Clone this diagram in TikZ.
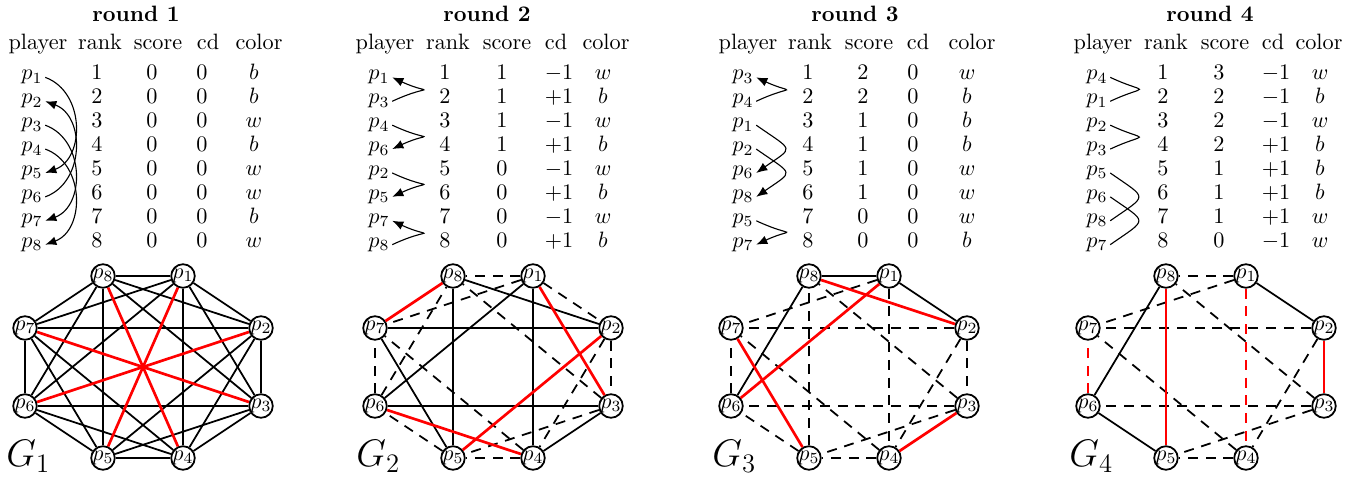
\documentclass[tikz,border=0pt]{standalone}
\usepackage{amsmath}
\usepackage{tikz}
\usetikzlibrary{arrows.meta}

\begin{document}
\begin{tikzpicture}[
  x=0.45pt, y=-0.45pt,
  rtitle/.style={font=\bfseries, anchor=base, inner sep=1pt},
  hcell/.style={anchor=base, inner sep=1pt},
  dcell/.style={anchor=base, inner sep=1pt},
  pairarrow/.style={line width=0.5pt, -{Latex[length=5pt,width=4pt]}},
  pairline/.style={line width=0.5pt},
  godown/.style={out=-#1, in=#1},
  goup/.style={out=#1, in=-#1},
  vert/.style={circle, draw, thick, fill=white, inner sep=-0.3pt, minimum size=10.6pt},
  glabel/.style={font=\LARGE, anchor=base west, inner sep=0pt},
  sedge/.style={thick},
  dedge/.style={thick, dash pattern=on 4.5pt off 3.5pt},
  match/.style={very thick, red},
  dmatch/.style={very thick, red, dash pattern=on 4.5pt off 3.5pt}
]
  \useasboundingbox (0,0) rectangle (1361,479);

  % ---- round 1 ----
  \node[rtitle] (t1) at (136,21.7) {round 1};
  \foreach \h/\x in {player/38, rank/100, score/158, cd/208, color/259}
    \node[hcell] (h1\h) at (\x,50) {\h};
  \foreach \pl/\sc/\cd/\co [count=\i] in {1/0/0/b, 2/0/0/b, 3/0/0/w, 4/0/0/b,
                                          5/0/0/w, 6/0/0/w, 7/0/0/b, 8/0/0/w} {
    \node[dcell] (r1p\pl) at (32,{80+23.9*(\i-1)}) {$p_{\pl}$};
    \node[dcell] (r1r\i) at (97,{80+23.9*(\i-1)}) {$\i$};
    \node[dcell] (r1s\i) at (152,{80+23.9*(\i-1)}) {$\sc$};
    \node[dcell] (r1d\i) at (202,{80+23.9*(\i-1)}) {$\cd$};
    \node[dcell] (r1c\i) at (254,{80+23.9*(\i-1)}) {$\co$};
  }
  \draw[pairarrow] (r1p1.east) to[godown=20, looseness=1.14] (r1p5.east);
  \draw[pairarrow] (r1p6.east) to[goup=20, looseness=1.14] (r1p2.east);
  \draw[pairarrow] (r1p3.east) to[godown=20, looseness=1.14] (r1p7.east);
  \draw[pairarrow] (r1p4.east) to[godown=20, looseness=1.14] (r1p8.east);

  % ---- round 2 ----
  \node[rtitle] (t2) at (487,21.7) {round 2};
  \foreach \h/\x in {player/385, rank/448, score/507, cd/556, color/606}
    \node[hcell] (h2\h) at (\x,50) {\h};
  \foreach \pl/\sc/\cd/\co [count=\i] in {1/1/-1/w, 3/1/+1/b, 4/1/-1/w, 6/1/+1/b,
                                          2/0/-1/w, 5/0/+1/b, 7/0/-1/w, 8/0/+1/b} {
    \node[dcell] (r2p\pl) at (379,{80+23.9*(\i-1)}) {$p_{\pl}$};
    \node[dcell] (r2r\i) at (445,{80+23.9*(\i-1)}) {$\i$};
    \node[dcell] (r2s\i) at (502,{80+23.9*(\i-1)}) {$\sc$};
    \node[dcell] (r2d\i) at (559,{80+23.9*(\i-1)}) {$\cd$};
    \node[dcell] (r2c\i) at (603,{80+23.9*(\i-1)}) {$\co$};
  }
  \draw[pairarrow] (r2p3.east) to[goup=25, looseness=4.8] (r2p1.east);
  \draw[pairarrow] (r2p4.east) to[godown=25, looseness=4.8] (r2p6.east);
  \draw[pairarrow] (r2p2.east) to[godown=25, looseness=4.8] (r2p5.east);
  \draw[pairarrow] (r2p8.east) to[goup=25, looseness=4.8] (r2p7.east);

  % ---- round 3 ----
  \node[rtitle] (t3) at (855,21.7) {round 3};
  \foreach \h/\x in {player/748, rank/810, score/869, cd/918, color/972}
    \node[hcell] (h3\h) at (\x,50) {\h};
  \foreach \pl/\sc/\cd/\co [count=\i] in {3/2/0/w, 4/2/0/b, 1/1/0/b, 2/1/0/b,
                                          6/1/0/w, 8/1/0/w, 5/0/0/w, 7/0/0/b} {
    \node[dcell] (r3p\pl) at (743,{80+23.9*(\i-1)}) {$p_{\pl}$};
    \node[dcell] (r3r\i) at (808,{80+23.9*(\i-1)}) {$\i$};
    \node[dcell] (r3s\i) at (863,{80+23.9*(\i-1)}) {$\sc$};
    \node[dcell] (r3d\i) at (913,{80+23.9*(\i-1)}) {$\cd$};
    \node[dcell] (r3c\i) at (967,{80+23.9*(\i-1)}) {$\co$};
  }
  \draw[pairarrow] (r3p4.east) to[goup=25, looseness=4.6] (r3p3.east);
  \draw[pairarrow] (r3p1.east) to[godown=35, looseness=2.5] (r3p6.east);
  \draw[pairarrow] (r3p2.east) to[godown=35, looseness=2.5] (r3p8.east);
  \draw[pairarrow] (r3p5.east) to[godown=25, looseness=4.6] (r3p7.east);

  % ---- round 4 ----
  \node[rtitle] (t4) at (1210,21.7) {round 4};
  \foreach \h/\x in {player/1103, rank/1166, score/1225, cd/1273, color/1319}
    \node[hcell] (h4\h) at (\x,50) {\h};
  \foreach \pl/\sc/\cd/\co [count=\i] in {4/3/-1/w, 1/2/-1/b, 2/2/-1/w, 3/2/+1/b,
                                          5/1/+1/b, 6/1/+1/b, 8/1/+1/w, 7/0/-1/w} {
    \node[dcell] (r4p\pl) at (1097,{80+23.9*(\i-1)}) {$p_{\pl}$};
    \node[dcell] (r4r\i) at (1163,{80+23.9*(\i-1)}) {$\i$};
    \node[dcell] (r4s\i) at (1219,{80+23.9*(\i-1)}) {$\sc$};
    \node[dcell] (r4d\i) at (1276,{80+23.9*(\i-1)}) {$\cd$};
    \node[dcell] (r4c\i) at (1320,{80+23.9*(\i-1)}) {$\co$};
  }
  \draw[pairline] (r4p4.east) to[godown=25, looseness=4.6] (r4p1.east);
  \draw[pairline] (r4p2.east) to[godown=25, looseness=4.6] (r4p3.east);
  \draw[pairline] (r4p5.east) to[godown=35, looseness=2.5] (r4p8.east);
  \draw[pairline] (r4p6.east) to[godown=35, looseness=2.5] (r4p7.east);

  % ---- graphs ----
  \foreach \g/\dx in {1/0, 2/350, 3/706, 4/1063} {
    \begin{scope}[shift={(\dx,0)}]
      \foreach \n/\x/\y in {1/183/276, 2/261/328, 3/261/406, 4/183/458,
                            5/103/458, 6/25/406, 7/25/328, 8/103/276}
        \node[vert] (g\g p\n) at (\x,\y) {$p_{\n}$};
      \node[glabel] (G\g) at (6,467) {$G_{\g}$};
    \end{scope}
  }

  % G1
  \foreach \a/\b in {1/2,1/3,1/4,1/6,1/7,1/8,2/3,2/4,2/5,2/7,2/8,3/4,
                     3/5,3/6,3/8,4/5,4/6,4/7,5/6,5/7,5/8,6/7,6/8,7/8}
    \draw[sedge] (g1p\a) -- (g1p\b);
  \foreach \a/\b in {1/5,2/6,3/7,4/8}
    \draw[match] (g1p\a) -- (g1p\b);

  % G2
  \foreach \a/\b in {1/4,1/6,2/7,2/8,3/4,3/6,5/7,5/8}
    \draw[sedge] (g2p\a) -- (g2p\b);
  \foreach \a/\b in {1/2,1/7,1/8,2/3,2/4,3/5,3/8,4/5,4/7,5/6,6/7,6/8}
    \draw[dedge] (g2p\a) -- (g2p\b);
  \foreach \a/\b in {1/3,2/5,4/6,7/8}
    \draw[match] (g2p\a) -- (g2p\b);

  % G3
  \foreach \a/\b in {1/2,1/8,6/8}
    \draw[sedge] (g3p\a) -- (g3p\b);
  \foreach \a/\b in {1/4,1/7,2/3,2/4,2/7,3/5,3/6,3/8,4/5,4/7,5/6,5/8,6/7}
    \draw[dedge] (g3p\a) -- (g3p\b);
  \foreach \a/\b in {2/8,1/6,5/7,3/4}
    \draw[match] (g3p\a) -- (g3p\b);

  % G4
  \foreach \a/\b in {1/2,5/6,6/8}
    \draw[sedge] (g4p\a) -- (g4p\b);
  \foreach \a/\b in {1/7,1/8,2/4,2/7,3/5,3/6,3/8,4/5,4/7}
    \draw[dedge] (g4p\a) -- (g4p\b);
  \foreach \a/\b in {2/3,5/8}
    \draw[match] (g4p\a) -- (g4p\b);
  \foreach \a/\b in {1/4,6/7}
    \draw[dmatch] (g4p\a) -- (g4p\b);
\end{tikzpicture}
\end{document}
